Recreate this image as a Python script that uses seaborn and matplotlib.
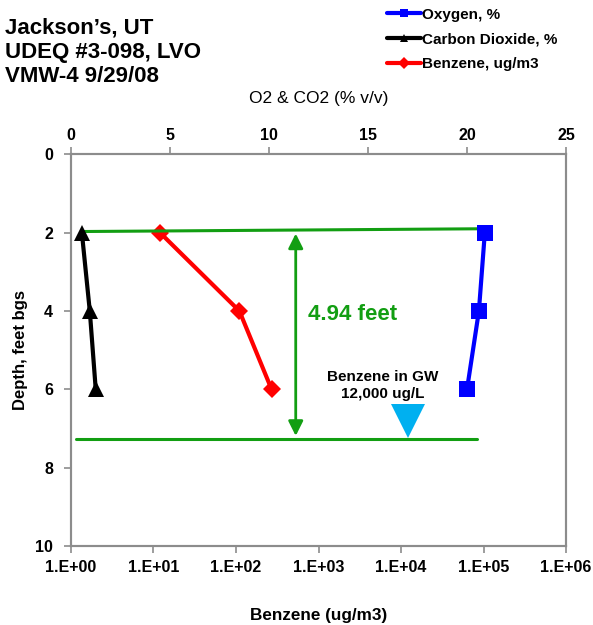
import numpy as np
import pandas as pd
import seaborn as sns
import matplotlib.pyplot as plt
from matplotlib.ticker import FixedLocator, FuncFormatter

sns.set_style('white')
plt.rcParams['font.family'] = ['Liberation Sans', 'DejaVu Sans']
plt.rcParams['text.color'] = 'black'
plt.rcParams['axes.labelcolor'] = 'black'

# data
depth = [2, 4, 6]
oxygen = [20.9, 20.6, 20.0]
co2 = [0.55, 0.95, 1.25]
benzene = [12, 110, 270]

gw_depth = 7.26
top_depth = 1.95
gw_benzene = 12000
thickness_label = '4.94 feet'

df = pd.DataFrame({'depth': depth, 'Oxygen, %': oxygen,
                   'Carbon Dioxide, %': co2, 'Benzene, ug/m3': benzene})

fig = plt.figure(figsize=(5.93, 6.25), dpi=100)
ax = fig.add_axes([0.1197, 0.1264, 0.8348, 0.6266])
ax2 = ax.twiny()

green = '#129e12'
grey = '#8c8c8c'

# benzene on log axis
sns.lineplot(data=df, x='Benzene, ug/m3', y='depth', sort=False, ax=ax, color='red',
             lw=3, marker='D', markersize=9, markeredgewidth=0, label='Benzene, ug/m3',
             legend=False)

# groundwater marker
ax.plot([gw_benzene], [gw_depth - 0.45], marker='v', markersize=25, color='#00b0f0',
        markeredgewidth=0, ls='none')
ax.text(6000, 5.9, 'Benzene in GW\n12,000 ug/L', ha='center', va='center',
        fontsize=11, fontweight='bold', linespacing=1.25)

# O2 / CO2 on linear top axis
sns.lineplot(data=df, x='Oxygen, %', y='depth', sort=False, ax=ax2, color='blue',
             lw=3, marker='s', markersize=12, markeredgewidth=0, label='Oxygen, %',
             legend=False)
sns.lineplot(data=df, x='Carbon Dioxide, %', y='depth', sort=False, ax=ax2, color='black',
             lw=3, marker='^', markersize=12, markeredgewidth=0, label='Carbon Dioxide, %',
             legend=False)

# horizontal green lines
ax2.plot([0.55, 20.6], [1.97, 1.90], color=green, lw=2.2, zorder=1)
ax2.plot([0.25, 20.5], [gw_depth, gw_depth], color=green, lw=2.2, zorder=1)
ax2.annotate('', xy=(11.35, top_depth), xytext=(11.35, gw_depth),
             arrowprops=dict(arrowstyle='<|-|>', color=green, lw=2, mutation_scale=22))
ax2.text(11.95, 4.1, thickness_label, color=green, fontsize=16, fontweight='bold',
         ha='left', va='center')

ax.set_xscale('log')
ax.set_xlim(1, 1e6)
ax.set_ylim(10, 0)
ax2.set_xlim(0, 25)
ax2.set_ylim(10, 0)

ax.xaxis.set_major_locator(FixedLocator([10.0 ** i for i in range(7)]))
ax.xaxis.set_minor_locator(FixedLocator([]))
ax.xaxis.set_major_formatter(FuncFormatter(lambda v, p: f'1.E+{int(round(np.log10(v))):02d}'))
ax.set_yticks([0, 2, 4, 6, 8, 10])
ax2.set_xticks([0, 5, 10, 15, 20, 25])

for a in (ax, ax2):
    for s in a.spines.values():
        s.set_color(grey)
        s.set_linewidth(1.5)
    a.tick_params(colors=grey, width=1.2, length=5, labelcolor='black', labelsize=11.5)
    for lab in a.get_xticklabels() + a.get_yticklabels():
        lab.set_fontweight('bold')
ax.tick_params(axis='x', direction='out', bottom=True, pad=5)
ax.tick_params(axis='y', direction='out', left=True, pad=8)
ax2.tick_params(axis='x', direction='out', top=True, pad=3)

ax.set_xlabel('Benzene (ug/m3)', fontsize=12.3, fontweight='bold', labelpad=24)
ax.set_ylabel('Depth, feet bgs', fontsize=12, fontweight='bold', labelpad=5)
ax2.set_xlabel('O2 & CO2 (% v/v)', fontsize=12.5, labelpad=18)
ax2.set_ylabel('')

fig.text(0.008, 0.972, "Jackson’s, UT\nUDEQ #3-098, LVO\nVMW-4 9/29/08", ha='left', va='top',
         fontsize=16, fontweight='bold', linespacing=1.2)

h2, l2 = ax2.get_legend_handles_labels()
h1, l1 = ax.get_legend_handles_labels()
leg = fig.legend(h2 + h1, l2 + l1, loc='upper left', bbox_to_anchor=(0.63, 1.01),
                 frameon=False, handlelength=2.2, handletextpad=0.1, labelspacing=0.7,
                 prop={'weight': 'bold', 'size': 11})
for line in leg.get_lines():
    line.set_markersize(6)

plt.savefig('out.png', dpi=100)
